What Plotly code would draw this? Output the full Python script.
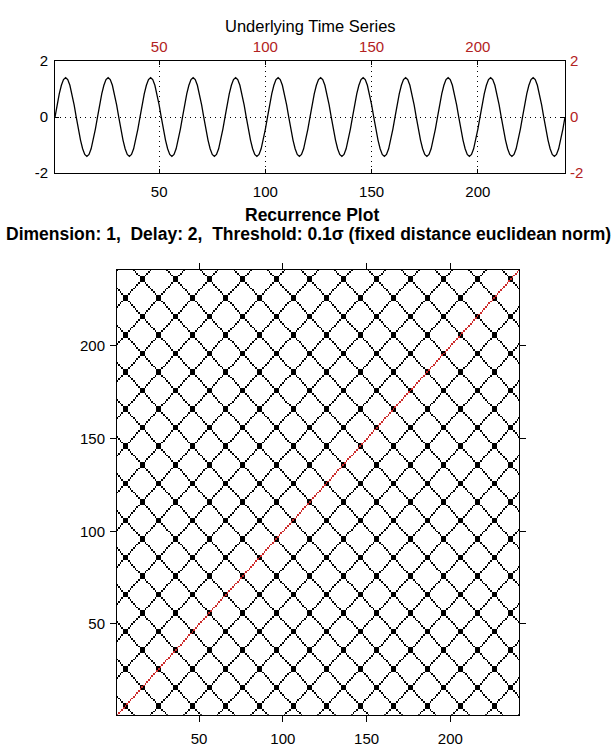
import numpy as np
import plotly.graph_objects as go

# ---------------- data ----------------
# time index of the underlying series
time_index = list(range(1, 242))

# underlying time series, one value per time step
series_values = [
    0.00, 0.43, 0.82, 1.13, 1.33, 1.40, 1.33, 1.13, 0.82, 0.43, 0.00, -0.43, -0.82, -1.13, -1.33, -1.40, -1.33, -1.13, -0.82, -0.43,
    0.00, 0.43, 0.82, 1.13, 1.33, 1.40, 1.33, 1.13, 0.82, 0.43, 0.00, -0.43, -0.82, -1.13, -1.33, -1.40, -1.33, -1.13, -0.82, -0.43,
    0.00, 0.43, 0.82, 1.13, 1.33, 1.40, 1.33, 1.13, 0.82, 0.43, 0.00, -0.43, -0.82, -1.13, -1.33, -1.40, -1.33, -1.13, -0.82, -0.43,
    0.00, 0.43, 0.82, 1.13, 1.33, 1.40, 1.33, 1.13, 0.82, 0.43, 0.00, -0.43, -0.82, -1.13, -1.33, -1.40, -1.33, -1.13, -0.82, -0.43,
    0.00, 0.43, 0.82, 1.13, 1.33, 1.40, 1.33, 1.13, 0.82, 0.43, 0.00, -0.43, -0.82, -1.13, -1.33, -1.40, -1.33, -1.13, -0.82, -0.43,
    0.00, 0.43, 0.82, 1.13, 1.33, 1.40, 1.33, 1.13, 0.82, 0.43, 0.00, -0.43, -0.82, -1.13, -1.33, -1.40, -1.33, -1.13, -0.82, -0.43,
    0.00, 0.43, 0.82, 1.13, 1.33, 1.40, 1.33, 1.13, 0.82, 0.43, 0.00, -0.43, -0.82, -1.13, -1.33, -1.40, -1.33, -1.13, -0.82, -0.43,
    0.00, 0.43, 0.82, 1.13, 1.33, 1.40, 1.33, 1.13, 0.82, 0.43, 0.00, -0.43, -0.82, -1.13, -1.33, -1.40, -1.33, -1.13, -0.82, -0.43,
    0.00, 0.43, 0.82, 1.13, 1.33, 1.40, 1.33, 1.13, 0.82, 0.43, 0.00, -0.43, -0.82, -1.13, -1.33, -1.40, -1.33, -1.13, -0.82, -0.43,
    0.00, 0.43, 0.82, 1.13, 1.33, 1.40, 1.33, 1.13, 0.82, 0.43, 0.00, -0.43, -0.82, -1.13, -1.33, -1.40, -1.33, -1.13, -0.82, -0.43,
    0.00, 0.43, 0.82, 1.13, 1.33, 1.40, 1.33, 1.13, 0.82, 0.43, 0.00, -0.43, -0.82, -1.13, -1.33, -1.40, -1.33, -1.13, -0.82, -0.43,
    0.00, 0.43, 0.82, 1.13, 1.33, 1.40, 1.33, 1.13, 0.82, 0.43, 0.00, -0.43, -0.82, -1.13, -1.33, -1.40, -1.33, -1.13, -0.82, -0.43,
    0.00,
]

# recurrence parameters
embedding_dimension = 1
embedding_delay = 2
threshold_sigma = 0.1

x_tick_values = [50, 100, 150, 200]
x_tick_labels = ["50", "100", "150", "200"]
ts_y_tick_values = [-2, 0, 2]
ts_y_tick_labels = ["-2", "0", "2"]
rp_tick_values = [50, 100, 150, 200]
rp_tick_labels = ["50", "100", "150", "200"]

title_top = "Underlying Time Series"
title_rp = "Recurrence Plot"
subtitle_rp = "Dimension: 1,  Delay: 2,  Threshold: 0.1\u03c3 (fixed distance euclidean norm)"

# ---------------- recurrence matrix (derived from the series) ----------------
x = np.asarray(series_values, dtype=float)
eps = threshold_sigma * x.std()
rec = (np.abs(x[:, None] - x[None, :]) <= eps + 1e-9).astype(float)
np.fill_diagonal(rec, 2.0)  # line of identity shown in red

# ---------------- figure ----------------
W, H = 616, 756
def px(v):
    return v / W
def py(v):
    return 1 - v / H

FONT = "Liberation Sans, Arial, sans-serif"
RED = "#b22222"

fig = go.Figure()

fig.add_trace(go.Scatter(
    x=time_index, y=series_values, mode="lines",
    line=dict(color="black", width=1.3),
    xaxis="x", yaxis="y", hoverinfo="skip", showlegend=False))
# invisible companion trace so the red top/right axes render
fig.add_trace(go.Scatter(
    x=time_index, y=series_values, mode="lines",
    line=dict(color="rgba(0,0,0,0)", width=0),
    xaxis="x2", yaxis="y2", hoverinfo="skip", showlegend=False))

fig.add_trace(go.Heatmap(
    x=time_index, y=time_index, z=rec,
    colorscale=[[0, "white"], [0.33, "white"], [0.34, "black"], [0.66, "black"],
                [0.67, "#cc2a2a"], [1, "#cc2a2a"]],
    zmin=0, zmax=2, showscale=False, zsmooth=False,
    xaxis="x3", yaxis="y3", hoverinfo="skip"))

tick_font = dict(family=FONT, size=15, color="black")
red_font = dict(family=FONT, size=15, color=RED)
DOT = "1px,4px"

ts_dom_x = [px(55), px(565)]
ts_dom_y = [py(168), py(53)]
rp_dom_x = [px(117), px(519)]
rp_dom_y = [py(722), py(267)]

fig.update_layout(
    width=W, height=H, autosize=False,
    margin=dict(l=0, r=0, t=0, b=0),
    paper_bgcolor="white", plot_bgcolor="white",
    showlegend=False,
    xaxis=dict(domain=ts_dom_x, anchor="y", range=[1, 241],
               tickvals=x_tick_values, ticktext=x_tick_labels,
               ticks="inside", ticklen=4, tickcolor="black",
               showline=True, linecolor="black", linewidth=1,
               showgrid=True, gridcolor="black", gridwidth=1, griddash=DOT,
               zeroline=False, tickfont=tick_font, ticklabelstandoff=5),
    xaxis2=dict(overlaying="x", side="top", anchor="y", range=[1, 241],
                tickvals=x_tick_values, ticktext=x_tick_labels,
                ticks="inside", ticklen=4, tickcolor="black",
                showline=True, linecolor="black", linewidth=1,
                showgrid=False, zeroline=False, tickfont=red_font,
                ticklabelstandoff=2),
    yaxis=dict(domain=ts_dom_y, anchor="x", range=[-2, 2],
               tickvals=ts_y_tick_values, ticktext=ts_y_tick_labels,
               ticks="inside", ticklen=4, tickcolor="black",
               showline=True, linecolor="black", linewidth=1,
               showgrid=True, gridcolor="black", gridwidth=1, griddash=DOT,
               zeroline=False, tickfont=tick_font, ticklabelstandoff=3),
    yaxis2=dict(overlaying="y", side="right", anchor="x", range=[-2, 2],
                tickvals=ts_y_tick_values, ticktext=ts_y_tick_labels,
                ticks="inside", ticklen=4, tickcolor="black",
                showline=True, linecolor="black", linewidth=1,
                showgrid=False, zeroline=False, tickfont=red_font,
                ticklabelstandoff=1),
    xaxis3=dict(domain=rp_dom_x, anchor="y3", range=[1, 241],
                tickvals=rp_tick_values, ticktext=rp_tick_labels,
                ticks="outside", ticklen=6, tickcolor="black",
                showline=True, linecolor="black", linewidth=1, mirror="ticks",
                showgrid=False, zeroline=False, tickfont=tick_font,
                ticklabelstandoff=4),
    yaxis3=dict(domain=rp_dom_y, anchor="x3", range=[1, 241],
                tickvals=rp_tick_values, ticktext=rp_tick_labels,
                ticks="outside", ticklen=6, tickcolor="black",
                showline=True, linecolor="black", linewidth=1, mirror="ticks",
                showgrid=False, zeroline=False, tickfont=tick_font,
                ticklabelstandoff=2),
    annotations=[
        dict(text=title_top, x=px(310), y=py(17), xref="paper", yref="paper",
             showarrow=False, xanchor="center", yanchor="middle",
             font=dict(family=FONT, size=16.5, color="black")),
        dict(text="<b>" + title_rp + "</b>", x=px(312), y=py(211), xref="paper", yref="paper",
             showarrow=False, xanchor="center", yanchor="middle",
             font=dict(family=FONT, size=17.5, color="black")),
        dict(text="<b>" + subtitle_rp + "</b>", x=px(308), y=py(230), xref="paper", yref="paper",
             showarrow=False, xanchor="center", yanchor="middle",
             font=dict(family=FONT, size=17.5, color="black")),
    ],
)

fig.write_html("out.html")
